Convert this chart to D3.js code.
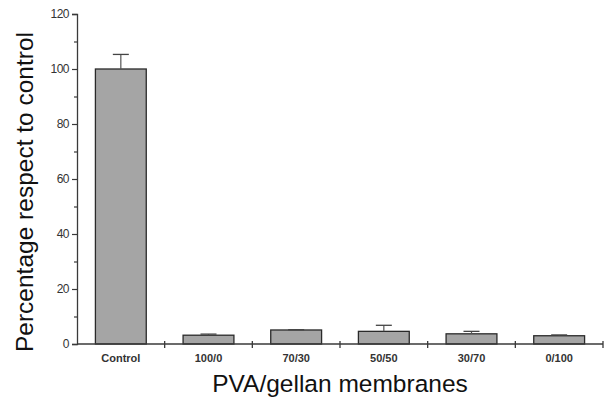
<!DOCTYPE html>
<html>
<head>
<meta charset="utf-8">
<script src="https://cdn.jsdelivr.net/npm/d3@7"></script>
<style>
  body { margin: 0; background: #fff; }
  svg { display: block; font-family: "Liberation Sans", Arial, sans-serif; }
</style>
</head>
<body>
<svg id="chart" width="607" height="401"></svg>
<script>
// values
var categories = ["Control", "100/0", "70/30", "50/50", "30/70", "0/100"];
var values = [100, 3.2, 5.1, 4.6, 3.7, 3.0];
var errors = [5.3, 0.4, 0.1, 2.2, 0.9, 0.3];
var yTicks = [0, 20, 40, 60, 80, 100, 120];

var svg = d3.select("#chart");
var mLeft = 77, mRight = 603, mTop = 14, mBottom = 344;

var x = d3.scaleBand().domain(categories).range([mLeft, mRight]).paddingInner(0.42).paddingOuter(0.21);
var y = d3.scaleLinear().domain([0, 120]).range([mBottom, mTop]);

var axisColor = "#3a3a3a";

// bars
svg.selectAll("rect.bar").data(values).enter().append("rect")
    .attr("class", "bar")
    .attr("x", (d, i) => x(categories[i]))
    .attr("y", d => y(d))
    .attr("width", x.bandwidth())
    .attr("height", d => mBottom - y(d))
    .style("fill", "#a5a5a5")
    .style("stroke", "#2a2a2a")
    .style("stroke-width", 1.3);

// error bars (upper only)
var eb = svg.selectAll("g.err").data(values).enter().append("g").attr("class", "err");
eb.append("line")
    .attr("x1", (d, i) => x(categories[i]) + x.bandwidth() / 2)
    .attr("x2", (d, i) => x(categories[i]) + x.bandwidth() / 2)
    .attr("y1", d => y(d))
    .attr("y2", (d, i) => y(d + errors[i]))
    .style("stroke", "#555").style("stroke-width", 1.2);
eb.append("line")
    .attr("x1", (d, i) => x(categories[i]) + x.bandwidth() / 2 - 8)
    .attr("x2", (d, i) => x(categories[i]) + x.bandwidth() / 2 + 8)
    .attr("y1", (d, i) => y(d + errors[i]))
    .attr("y2", (d, i) => y(d + errors[i]))
    .style("stroke", "#444").style("stroke-width", 1.3);

// y axis, major + minor ticks
var yAxis = svg.append("g").attr("transform", "translate(" + mLeft + ",0)")
    .call(d3.axisLeft(y).tickValues(yTicks).tickSize(5).tickPadding(3));
svg.append("g").attr("transform", "translate(" + mLeft + ",0)")
    .call(d3.axisLeft(y).tickValues(d3.range(10, 120, 20)).tickSize(3).tickFormat(""))
    .select(".domain").remove();

// x axis: ticks at the category boundaries
var bounds = d3.range(0, categories.length + 1).map(i => mLeft + i * (mRight - mLeft) / categories.length);
var xAxis = svg.append("g").attr("transform", "translate(0," + mBottom + ")");
xAxis.append("line").attr("x1", mLeft).attr("x2", mRight).attr("y1", 0).attr("y2", 0)
    .style("stroke", axisColor).style("stroke-width", 1.3);
xAxis.selectAll("line.tk").data(bounds.slice(1)).enter().append("line")
    .attr("class", "tk")
    .attr("x1", d => d).attr("x2", d => d).attr("y1", -3).attr("y2", 4)
    .style("stroke", axisColor).style("stroke-width", 1.3);
xAxis.selectAll("text").data(categories).enter().append("text")
    .attr("x", d => x(d) + x.bandwidth() / 2)
    .attr("y", 18)
    .attr("text-anchor", "middle")
    .style("font-size", "11px").style("font-weight", "bold").style("fill", "#333")
    .text(d => d);

yAxis.select(".domain").style("stroke", axisColor).style("stroke-width", 1.3);
svg.selectAll(".tick line").style("stroke", axisColor).style("stroke-width", 1.2);
yAxis.selectAll(".tick text").style("font-size", "12px").style("fill", "#333").style("letter-spacing", "-0.5px");

// titles
svg.append("text")
    .attr("x", 340).attr("y", 392)
    .attr("text-anchor", "middle")
    .style("font-size", "24.5px").style("fill", "#111")
    .text("PVA/gellan membranes");
svg.append("text")
    .attr("transform", "translate(33,192) rotate(-90)")
    .attr("text-anchor", "middle")
    .style("font-size", "24.5px").style("fill", "#111")
    .text("Percentage respect to control");
</script>
</body>
</html>
